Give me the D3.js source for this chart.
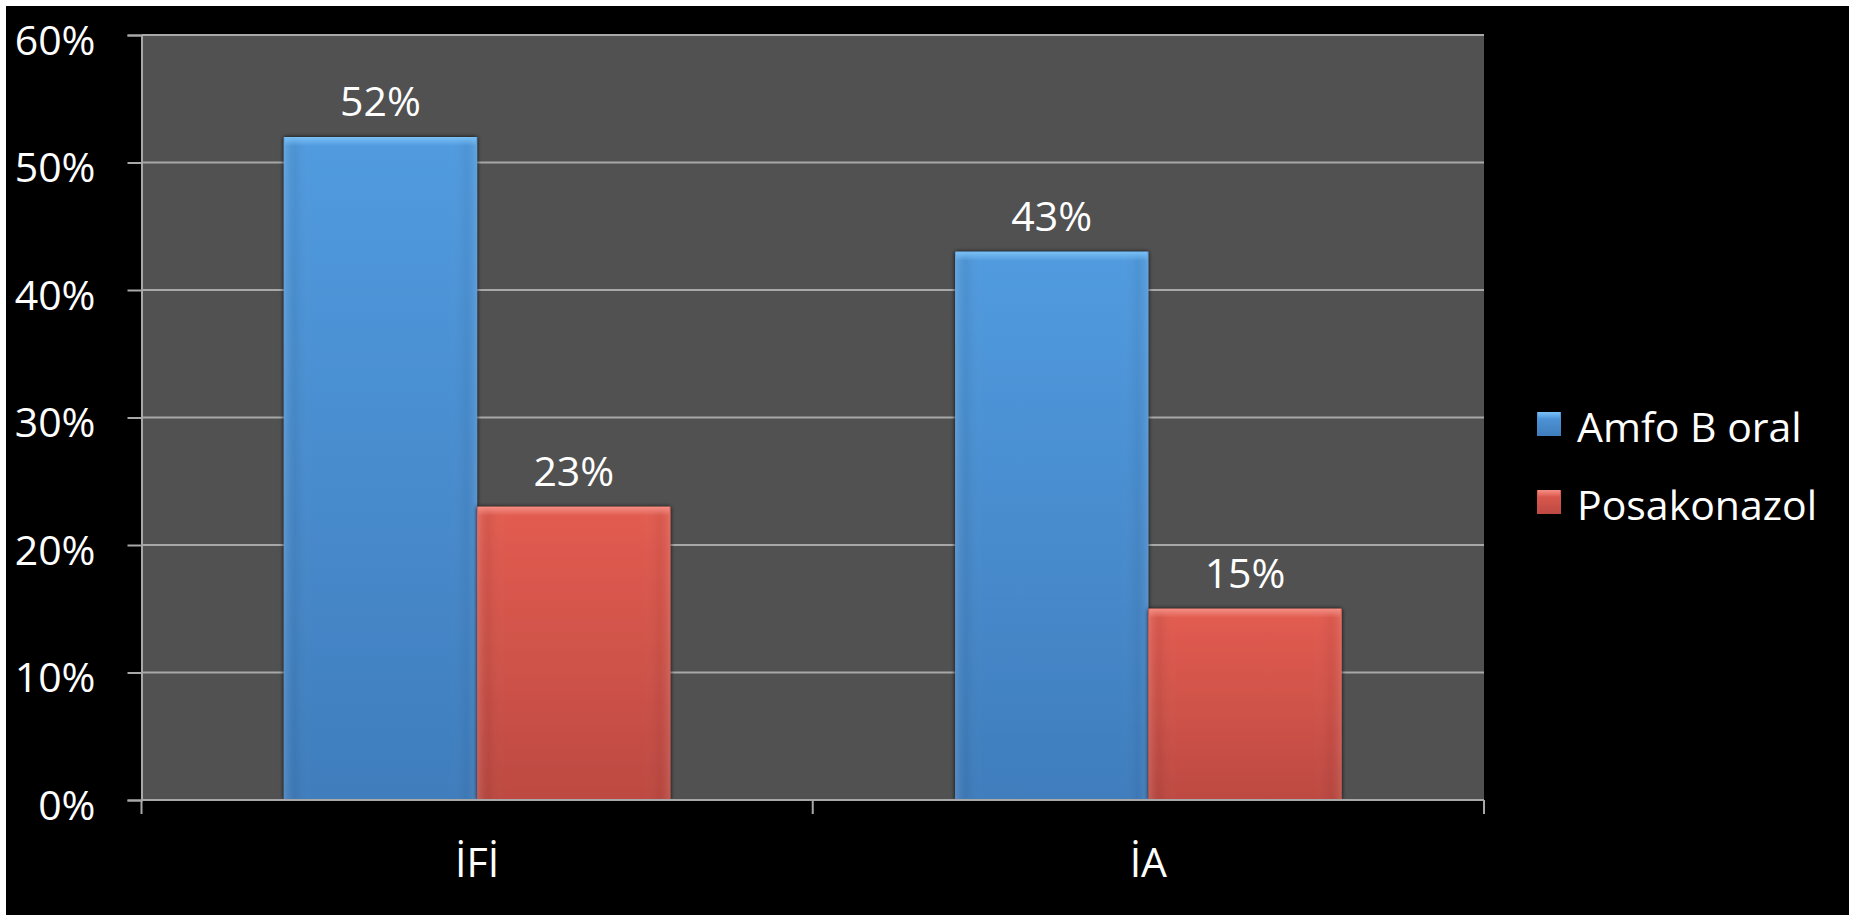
<!DOCTYPE html>
<html>
<head>
<meta charset="utf-8">
<script src="https://cdn.jsdelivr.net/npm/d3@7"></script>
<style>
  html, body { margin: 0; padding: 0; background: #ffffff; overflow: hidden; }
  svg { display: block; }
  text { font-family: "Open Sans", Lato, sans-serif; fill: #ffffff; }
</style>
</head>
<body>
<svg id="chart" width="1849" height="915"></svg>
<script>
// Chart data
const categories = ["İFİ", "İA"];
const seriesNames = ["Amfo B oral", "Posakonazol"];
const amfoValues = [0.52, 0.43];
const posaValues = [0.23, 0.15];
const yTicks = [0, 0.1, 0.2, 0.3, 0.4, 0.5, 0.6];

const seriesValues = [amfoValues, posaValues];
const palette = [
  { top: "#7cc2f8", light: "#519bdf", dark: "#3f7dbd" },
  { top: "#f59187", light: "#e35c51", dark: "#bd4a42" }
];
const FONT = "'Open Sans', Lato, sans-serif";
const FS = 41;

const svg = d3.select("#chart");

// Slide background (thin white frame on top and left)
svg.append("rect").attr("x", 6).attr("y", 6).attr("width", 1843).attr("height", 909).attr("fill", "#000");

const plot = { left: 141.5, right: 1484, top: 35, bottom: 800 };

const x0 = d3.scaleBand().domain(categories).range([plot.left, plot.right]).padding(0);
const groupFrac = 0.576;
const x1 = d3.scaleBand().domain(d3.range(seriesNames.length))
  .range([0, x0.bandwidth() * groupFrac]).padding(0);
const y = d3.scaleLinear().domain([0, 0.6]).range([plot.bottom, plot.top]);

// Gradients
const defs = svg.append("defs");
palette.forEach((p, i) => {
  const g = defs.append("linearGradient").attr("id", "vg" + i)
    .attr("x1", 0).attr("y1", 0).attr("x2", 0).attr("y2", 1);
  g.append("stop").attr("offset", "0%").attr("stop-color", p.light);
  g.append("stop").attr("offset", "100%").attr("stop-color", p.dark);
  const h = defs.append("linearGradient").attr("id", "hg" + i)
    .attr("x1", 0).attr("y1", 0).attr("x2", 1).attr("y2", 0);
  h.append("stop").attr("offset", "0%").attr("stop-color", "#ffffff").attr("stop-opacity", 0.12);
  h.append("stop").attr("offset", "6%").attr("stop-color", "#000000").attr("stop-opacity", 0.05);
  h.append("stop").attr("offset", "15%").attr("stop-color", "#ffffff").attr("stop-opacity", 0.0);
  h.append("stop").attr("offset", "85%").attr("stop-color", "#ffffff").attr("stop-opacity", 0.0);
  h.append("stop").attr("offset", "94%").attr("stop-color", "#000000").attr("stop-opacity", 0.04);
  h.append("stop").attr("offset", "100%").attr("stop-color", "#ffffff").attr("stop-opacity", 0.1);
  const t = defs.append("linearGradient").attr("id", "tg" + i)
    .attr("x1", 0).attr("y1", 0).attr("x2", 0).attr("y2", 1);
  t.append("stop").attr("offset", "0%").attr("stop-color", p.top).attr("stop-opacity", 0.95);
  t.append("stop").attr("offset", "100%").attr("stop-color", p.top).attr("stop-opacity", 0);
});
const shadow = defs.append("filter").attr("id", "shadow")
  .attr("x", "-10%").attr("y", "-10%").attr("width", "120%").attr("height", "120%");
shadow.append("feGaussianBlur").attr("in", "SourceAlpha").attr("stdDeviation", 2.2).attr("result", "b");
shadow.append("feComponentTransfer").attr("in", "b").attr("result", "s")
  .append("feFuncA").attr("type", "linear").attr("slope", 0.9);
const merge = shadow.append("feMerge");
merge.append("feMergeNode").attr("in", "s");
merge.append("feMergeNode").attr("in", "SourceGraphic");

// Plot area
svg.append("rect")
  .attr("x", plot.left).attr("y", plot.top)
  .attr("width", plot.right - plot.left).attr("height", plot.bottom - plot.top)
  .attr("fill", "#515151");

// Gridlines
svg.append("g").selectAll("line").data(yTicks.filter(d => d > 0)).join("line")
  .attr("x1", plot.left).attr("x2", plot.right)
  .attr("y1", d => y(d)).attr("y2", d => y(d))
  .attr("stroke", "#a8a8a8").attr("stroke-width", 2);

// Y axis
const yAxis = svg.append("g").attr("transform", `translate(${plot.left},0)`)
  .call(d3.axisLeft(y).tickValues(yTicks).tickFormat(d3.format(".0%")).tickSize(14).tickPadding(32));
yAxis.select(".domain").attr("stroke", "#a8a8a8").attr("stroke-width", 2);
yAxis.selectAll(".tick line").attr("stroke", "#a8a8a8").attr("stroke-width", 2);
yAxis.selectAll(".tick text").attr("fill", "#fff").attr("font-size", FS)
  .attr("font-family", FONT).attr("dy", "0.47em");

// Bars
const groups = svg.append("g").selectAll("g").data(categories).join("g")
  .attr("transform", c => `translate(${x0(c) + x0.bandwidth() * (1 - groupFrac) / 2},0)`);

groups.each(function(c, ci) {
  const g = d3.select(this);
  seriesNames.forEach((s, si) => {
    const v = seriesValues[si][ci];
    const bx = x1(si), bw = x1.bandwidth(), by = y(v), bh = y(0) - y(v);
    g.append("rect").attr("x", bx).attr("y", by).attr("width", bw).attr("height", bh)
      .attr("fill", `url(#vg${si})`).attr("filter", "url(#shadow)");
    g.append("rect").attr("x", bx).attr("y", by).attr("width", bw).attr("height", bh)
      .attr("fill", `url(#hg${si})`);
    g.append("rect").attr("x", bx + 1).attr("y", by).attr("width", bw - 2).attr("height", 9)
      .attr("fill", `url(#tg${si})`);
    g.append("text")
      .attr("x", bx + bw / 2).attr("y", by - 21)
      .attr("text-anchor", "middle").attr("font-size", FS)
      .text(d3.format(".0%")(v));
  });
});

// X axis
const xAxisG = svg.append("g").attr("transform", `translate(0,${plot.bottom})`);
xAxisG.append("line").attr("x1", plot.left).attr("x2", plot.right)
  .attr("y1", 0).attr("y2", 0).attr("stroke", "#a8a8a8").attr("stroke-width", 2);
const xBounds = categories.map(c => x0(c)).concat([plot.right]);
xAxisG.selectAll("line.tick").data(xBounds).join("line").attr("class", "tick")
  .attr("x1", d => d).attr("x2", d => d).attr("y1", 0).attr("y2", 14)
  .attr("stroke", "#a8a8a8").attr("stroke-width", 2);
xAxisG.selectAll("text").data(categories).join("text")
  .attr("x", c => x0(c) + x0.bandwidth() / 2).attr("y", 77)
  .attr("text-anchor", "middle").attr("font-size", FS)
  .text(c => c);

// Legend
const legend = svg.append("g").attr("transform", "translate(1537,412)");
seriesNames.forEach((s, i) => {
  const row = legend.append("g").attr("transform", `translate(0,${i * 78})`);
  row.append("rect").attr("width", 24).attr("height", 24)
    .attr("fill", `url(#vg${i})`).attr("filter", "url(#shadow)");
  row.append("rect").attr("x", 1).attr("width", 22).attr("height", 7).attr("fill", `url(#tg${i})`);
  row.append("text").attr("x", 40).attr("y", 30).attr("font-size", FS).text(s);
});
</script>
</body>
</html>
